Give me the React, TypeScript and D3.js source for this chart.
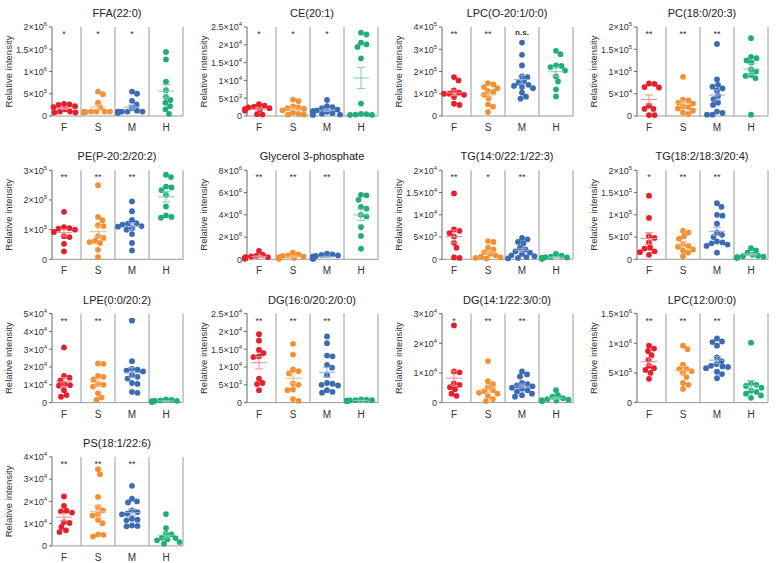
import React from "react";
import * as d3 from "d3";

const groups = ["F", "S", "M", "H"];
const dotColors = ["#E3202C", "#F39033", "#3A6BB3", "#1FAF76"];
const meanColors = ["#F08A8F", "#F6B77A", "#8FA9D6", "#7FCFAE"];

const titles = [
  "FFA(22:0)", "CE(20:1)", "LPC(O-20:1/0:0)", "PC(18:0/20:3)",
  "PE(P-20:2/20:2)", "Glycerol 3-phosphate", "TG(14:0/22:1/22:3)", "TG(18:2/18:3/20:4)",
  "LPE(0:0/20:2)", "DG(16:0/20:2/0:0)", "DG(14:1/22:3/0:0)", "LPC(12:0/0:0)",
  "PS(18:1/22:6)",
];
const units = [1e6, 1e3, 1e5, 1e5, 1e5, 1e6, 1e3, 1e5, 1e4, 1e3, 1e4, 1e6, 1e4];
const yMaxes = [2, 25, 4, 2, 3, 8, 20, 2, 5, 25, 3, 1.5, 4];
const tickSteps = [0.5, 5, 1, 0.5, 1, 2, 5, 0.5, 1, 5, 1, 0.5, 1];
const stars = [
  ["*", "*", "*"], ["*", "*", "*"], ["**", "**", "n.s."], ["**", "**", "**"],
  ["**", "**", "**"], ["**", "**", "**"], ["**", "*", "**"], ["*", "**", "**"],
  ["**", "**", "**"], ["**", "**", "**"], ["*", "**", "**"], ["**", "**", "**"],
  ["**", "**", "**"],
];

const ffa = [
  [0.27, 0.26, 0.25, 0.22, 0.2, 0.15, 0.1, 0.08, 0.08, 0.1],
  [0.55, 0.49, 0.3, 0.19, 0.1, 0.1, 0.09, 0.1, 0.08, 0.1, 0.09],
  [0.55, 0.5, 0.34, 0.26, 0.18, 0.12, 0.1, 0.1, 0.09, 0.08, 0.1, 0.07, 0.1],
  [1.44, 1.27, 0.77, 0.58, 0.43, 0.36, 0.3, 0.22, 0.15, 0.05],
];
const ce = [
  [3.3, 2.9, 2.6, 2.4, 2.2, 2.0, 1.8, 1.5, 0.5, 0.4],
  [4.6, 4.2, 2.7, 2.4, 2.2, 2.0, 1.6, 1.0, 0.6, 0.4, 0.4],
  [4.5, 2.8, 2.5, 2.2, 1.8, 1.6, 1.4, 1.2, 1.0, 0.8, 0.6, 0.4, 0.3],
  [23.4, 22.9, 20.6, 20.1, 19.4, 16.2, 3.5, 0.6, 0.5, 0.4, 0.3, 0.3],
];
const lpcO = [
  [1.75, 1.6, 1.15, 1.05, 1.0, 1.0, 0.95, 0.85, 0.55, 0.5],
  [1.48, 1.42, 1.3, 1.25, 1.12, 1.08, 0.95, 0.8, 0.52, 0.42, 0.18],
  [3.3, 2.75, 2.27, 1.78, 1.75, 1.55, 1.5, 1.4, 1.35, 1.3, 1.25, 1.05, 0.87, 0.78],
  [2.93, 2.78, 2.27, 2.25, 2.2, 2.05, 1.78, 1.55, 1.2, 0.88],
];
const pc = [
  [0.73, 0.72, 0.65, 0.64, 0.23, 0.16, 0.16, 0.02, 0.02],
  [0.88, 0.37, 0.35, 0.3, 0.28, 0.22, 0.2, 0.17, 0.12, 0.08, 0.05],
  [1.62, 0.82, 0.7, 0.66, 0.62, 0.57, 0.45, 0.38, 0.3, 0.25, 0.1, 0.07, 0.03, 0.03],
  [1.75, 1.33, 1.3, 1.25, 1.2, 1.05, 1.0, 0.92, 0.9, 0.85, 0.03],
];
const pe = [
  [1.6, 1.08, 1.05, 1.03, 1.0, 0.92, 0.78, 0.75, 0.52, 0.27],
  [2.5, 1.43, 1.32, 1.15, 1.12, 0.78, 0.72, 0.62, 0.58, 0.55, 0.32, 0.08],
  [1.95, 1.62, 1.33, 1.22, 1.2, 1.17, 1.12, 1.1, 1.05, 1.0, 0.85, 0.55, 0.3],
  [2.85, 2.77, 2.45, 2.42, 2.33, 2.17, 1.78, 1.48, 1.43, 1.4],
];
const g3p = [
  [0.75, 0.4, 0.3, 0.25, 0.2, 0.2, 0.15, 0.1, 0.1, 0.05],
  [0.6, 0.45, 0.35, 0.3, 0.25, 0.2, 0.15, 0.12, 0.1, 0.08, 0.05],
  [0.5, 0.45, 0.4, 0.35, 0.3, 0.25, 0.2, 0.2, 0.15, 0.12, 0.1, 0.08, 0.06, 0.05],
  [5.8, 5.75, 5.35, 4.7, 4.55, 4.0, 3.85, 2.9, 2.1, 0.95],
];
const tg1 = [
  [14.8, 6.7, 6.4, 5.9, 5.1, 3.7, 2.6, 0.4, 0.3],
  [4.1, 3.9, 2.6, 2.2, 1.6, 1.2, 0.9, 0.6, 0.4, 0.3, 0.2],
  [4.8, 4.5, 3.9, 3.6, 2.6, 2.2, 1.8, 1.5, 1.2, 0.9, 0.7, 0.5, 0.3, 0.2],
  [1.2, 0.8, 0.6, 0.5, 0.4, 0.3, 0.3, 0.2, 0.2, 0.1],
];
const tg2 = [
  [1.43, 0.93, 0.52, 0.48, 0.38, 0.26, 0.24, 0.18, 0.16, 0.1],
  [0.64, 0.6, 0.52, 0.46, 0.33, 0.3, 0.28, 0.22, 0.2, 0.15, 0.07],
  [1.26, 1.18, 1.0, 0.98, 0.8, 0.6, 0.55, 0.5, 0.4, 0.38, 0.36, 0.33, 0.3, 0.15],
  [0.25, 0.2, 0.15, 0.1, 0.08, 0.07, 0.06, 0.05, 0.04, 0.03],
];
const lpe = [
  [3.1, 1.5, 1.4, 1.25, 1.03, 0.98, 0.95, 0.7, 0.42, 0.33],
  [2.2, 2.18, 1.5, 1.45, 1.3, 1.05, 1.0, 0.9, 0.52, 0.28, 0.15],
  [4.6, 2.33, 1.9, 1.85, 1.8, 1.75, 1.55, 1.45, 1.35, 1.1, 1.05, 0.6, 0.55],
  [0.18, 0.15, 0.12, 0.1, 0.1, 0.08, 0.07, 0.06, 0.05, 0.04],
];
const dg1 = [
  [19.2, 17.4, 14.8, 13.9, 13.0, 12.8, 6.7, 5.5, 5.2, 3.5],
  [16.5, 13.5, 9.3, 8.8, 8.2, 5.4, 5.0, 3.7, 3.5, 1.0, 0.5],
  [18.6, 16.7, 13.2, 13.0, 10.6, 9.8, 7.7, 5.5, 5.3, 5.0, 4.8, 3.5, 3.0, 2.8],
  [0.9, 0.8, 0.7, 0.7, 0.6, 0.6, 0.5, 0.5, 0.4, 0.4],
];
const dg2 = [
  [2.6, 1.05, 1.02, 0.65, 0.6, 0.52, 0.45, 0.3, 0.23],
  [1.4, 0.72, 0.62, 0.52, 0.42, 0.38, 0.33, 0.3, 0.22, 0.12, 0.05],
  [1.05, 0.95, 0.88, 0.66, 0.62, 0.58, 0.55, 0.5, 0.47, 0.42, 0.37, 0.3, 0.25, 0.2],
  [0.42, 0.25, 0.2, 0.15, 0.12, 0.1, 0.08, 0.07, 0.06, 0.05],
];
const lpc12 = [
  [0.96, 0.91, 0.87, 0.8, 0.72, 0.62, 0.58, 0.55, 0.5, 0.4],
  [0.96, 0.9, 0.64, 0.57, 0.57, 0.53, 0.5, 0.43, 0.33, 0.3, 0.23],
  [1.08, 1.03, 1.02, 0.96, 0.76, 0.7, 0.65, 0.62, 0.61, 0.6, 0.58, 0.52, 0.48, 0.41],
  [1.01, 0.32, 0.3, 0.28, 0.25, 0.2, 0.18, 0.15, 0.12, 0.08],
];
const ps = [
  [2.22, 1.8, 1.58, 1.55, 1.5, 1.07, 1.03, 0.85, 0.7, 0.62],
  [3.45, 3.22, 2.2, 1.73, 1.6, 1.43, 1.37, 1.17, 1.02, 0.52, 0.5, 0.42],
  [2.7, 2.12, 2.0, 1.95, 1.6, 1.52, 1.45, 1.42, 1.22, 1.18, 1.15, 0.92, 0.9, 0.88],
  [1.43, 0.8, 0.55, 0.52, 0.37, 0.35, 0.3, 0.25, 0.17, 0.1],
];

const panelData = [ffa, ce, lpcO, pc, pe, g3p, tg1, tg2, lpe, dg1, dg2, lpc12, ps];

const FONT = "Liberation Sans, Arial, Helvetica, sans-serif";
const R = 2.9;

function swarm(ys: number[], cx: number, maxHalf: number) {
  const order = ys.map((y, i) => i).sort((a, b) => ys[a] - ys[b]);
  const placed: { x: number; y: number }[] = [];
  const out: number[] = new Array(ys.length);
  const minD = 2 * R - 0.4;
  for (const i of order) {
    const y = ys[i];
    let best = 0;
    for (let k = 0; k <= 60; k++) {
      const off = (k % 2 === 1 ? 1 : -1) * Math.ceil(k / 2) * 0.5;
      if (Math.abs(off) > maxHalf) continue;
      const x = cx + off;
      const ok = placed.every((p) => Math.hypot(p.x - x, p.y - y) >= minD);
      if (ok) { best = off; break; }
      best = off;
    }
    out[i] = cx + best;
    placed.push({ x: cx + best, y });
  }
  return out;
}

function fmtTick(v: number) {
  if (v === 0) return { m: "0", e: null as null | number };
  const e = Math.floor(Math.log10(v) + 1e-9);
  const m = +(v / Math.pow(10, e)).toFixed(2);
  return { m: `${m}×10`, e };
}

function Panel({ idx }: { idx: number }) {
  const col = idx % 4;
  const row = Math.floor(idx / 4);
  const ax = 52 + col * 195;
  const top = 27 + row * 143.3;
  const bottom = top + 89;
  const u = units[idx];
  const x = d3.scaleBand().domain(groups).range([ax - 5, ax + 131]);
  const y = d3.scaleLinear().domain([0, yMaxes[idx]]).range([bottom, top]);
  const ticks = d3.range(0, yMaxes[idx] + tickSteps[idx] / 2, tickSteps[idx]);
  const bw = x.bandwidth();
  const right = (x("H") as number) + bw;
  const data = panelData[idx];
  return (
    <g fontFamily={FONT}>
      <text x={ax + 65} y={top - 10} textAnchor="middle" fontSize={11} fill="#222">
        {titles[idx]}
      </text>
      <text
        transform={`translate(${ax - 40},${(top + bottom) / 2}) rotate(-90)`}
        textAnchor="middle"
        fontSize={9.5}
        fill="#333"
      >
        Relative intensity
      </text>
      {groups.slice(1).map((g) => (
        <line key={g} x1={x(g)} x2={x(g)} y1={top} y2={bottom} stroke="#9a9a9a" strokeWidth={1} />
      ))}
      <line x1={right} x2={right} y1={top} y2={bottom} stroke="#9a9a9a" strokeWidth={1} />
      <line x1={ax} x2={right} y1={bottom} y2={bottom} stroke="#9a9a9a" strokeWidth={1} />
      <line x1={ax} x2={ax} y1={top} y2={bottom} stroke="#666" strokeWidth={1} />
      {ticks.map((t) => {
        const f = fmtTick(t * u);
        return (
          <g key={t}>
            <line x1={ax - 3} x2={ax} y1={y(t)} y2={y(t)} stroke="#666" />
            <text x={ax - 5} y={y(t) + 3.3} textAnchor="end" fontSize={9} fill="#333">
              <tspan>{f.m}</tspan>
              {f.e !== null && (
                <tspan dy={-4} fontSize={6}>{f.e}</tspan>
              )}
            </text>
          </g>
        );
      })}
      {groups.map((g, gi) => {
        const cx = (x(g) as number) + bw / 2;
        return (
          <text key={g} x={cx} y={bottom + 15} textAnchor="middle" fontSize={10} fill="#333">
            {g}
          </text>
        );
      })}
      {stars[idx].map((s, si) => {
        const cx = (x(groups[si]) as number) + bw / 2;
        return (
          <text key={si} x={cx} y={top + (s === "n.s." ? 8 : 10)} textAnchor="middle"
            fontSize={s === "n.s." ? 8 : 9} fontWeight={s === "n.s." ? "bold" : "normal"} fill="#333">
            {s}
          </text>
        );
      })}
      {data.map((vals, gi) => {
        const g = groups[gi];
        const cx = (x(g) as number) + bw / 2;
        const ys = vals.map((v) => y(v));
        const xs = swarm(ys, cx, 14);
        const mean = d3.mean(vals) as number;
        const sd = d3.deviation(vals) as number;
        const sem = sd / Math.sqrt(vals.length);
        return (
          <g key={g}>
            {vals.map((v, i) => (
              <circle key={i} cx={xs[i]} cy={ys[i]} r={R} fill={dotColors[gi]} />
            ))}
            <g stroke={meanColors[gi]} strokeWidth={1} fill="none">
              <line x1={cx - 8} x2={cx + 8} y1={y(mean)} y2={y(mean)} />
              <line x1={cx} x2={cx} y1={y(mean - sem)} y2={y(mean + sem)} />
              <line x1={cx - 4} x2={cx + 4} y1={y(mean + sem)} y2={y(mean + sem)} />
              <line x1={cx - 4} x2={cx + 4} y1={y(mean - sem)} y2={y(mean - sem)} />
            </g>
          </g>
        );
      })}
    </g>
  );
}

export default function App() {
  return (
    <svg width={780} height={563} style={{ position: "absolute", left: 0, top: 0, background: "#fff" }}>
      <rect width={780} height={563} fill="#fff" />
      {titles.map((t, i) => (
        <Panel key={t} idx={i} />
      ))}
    </svg>
  );
}
